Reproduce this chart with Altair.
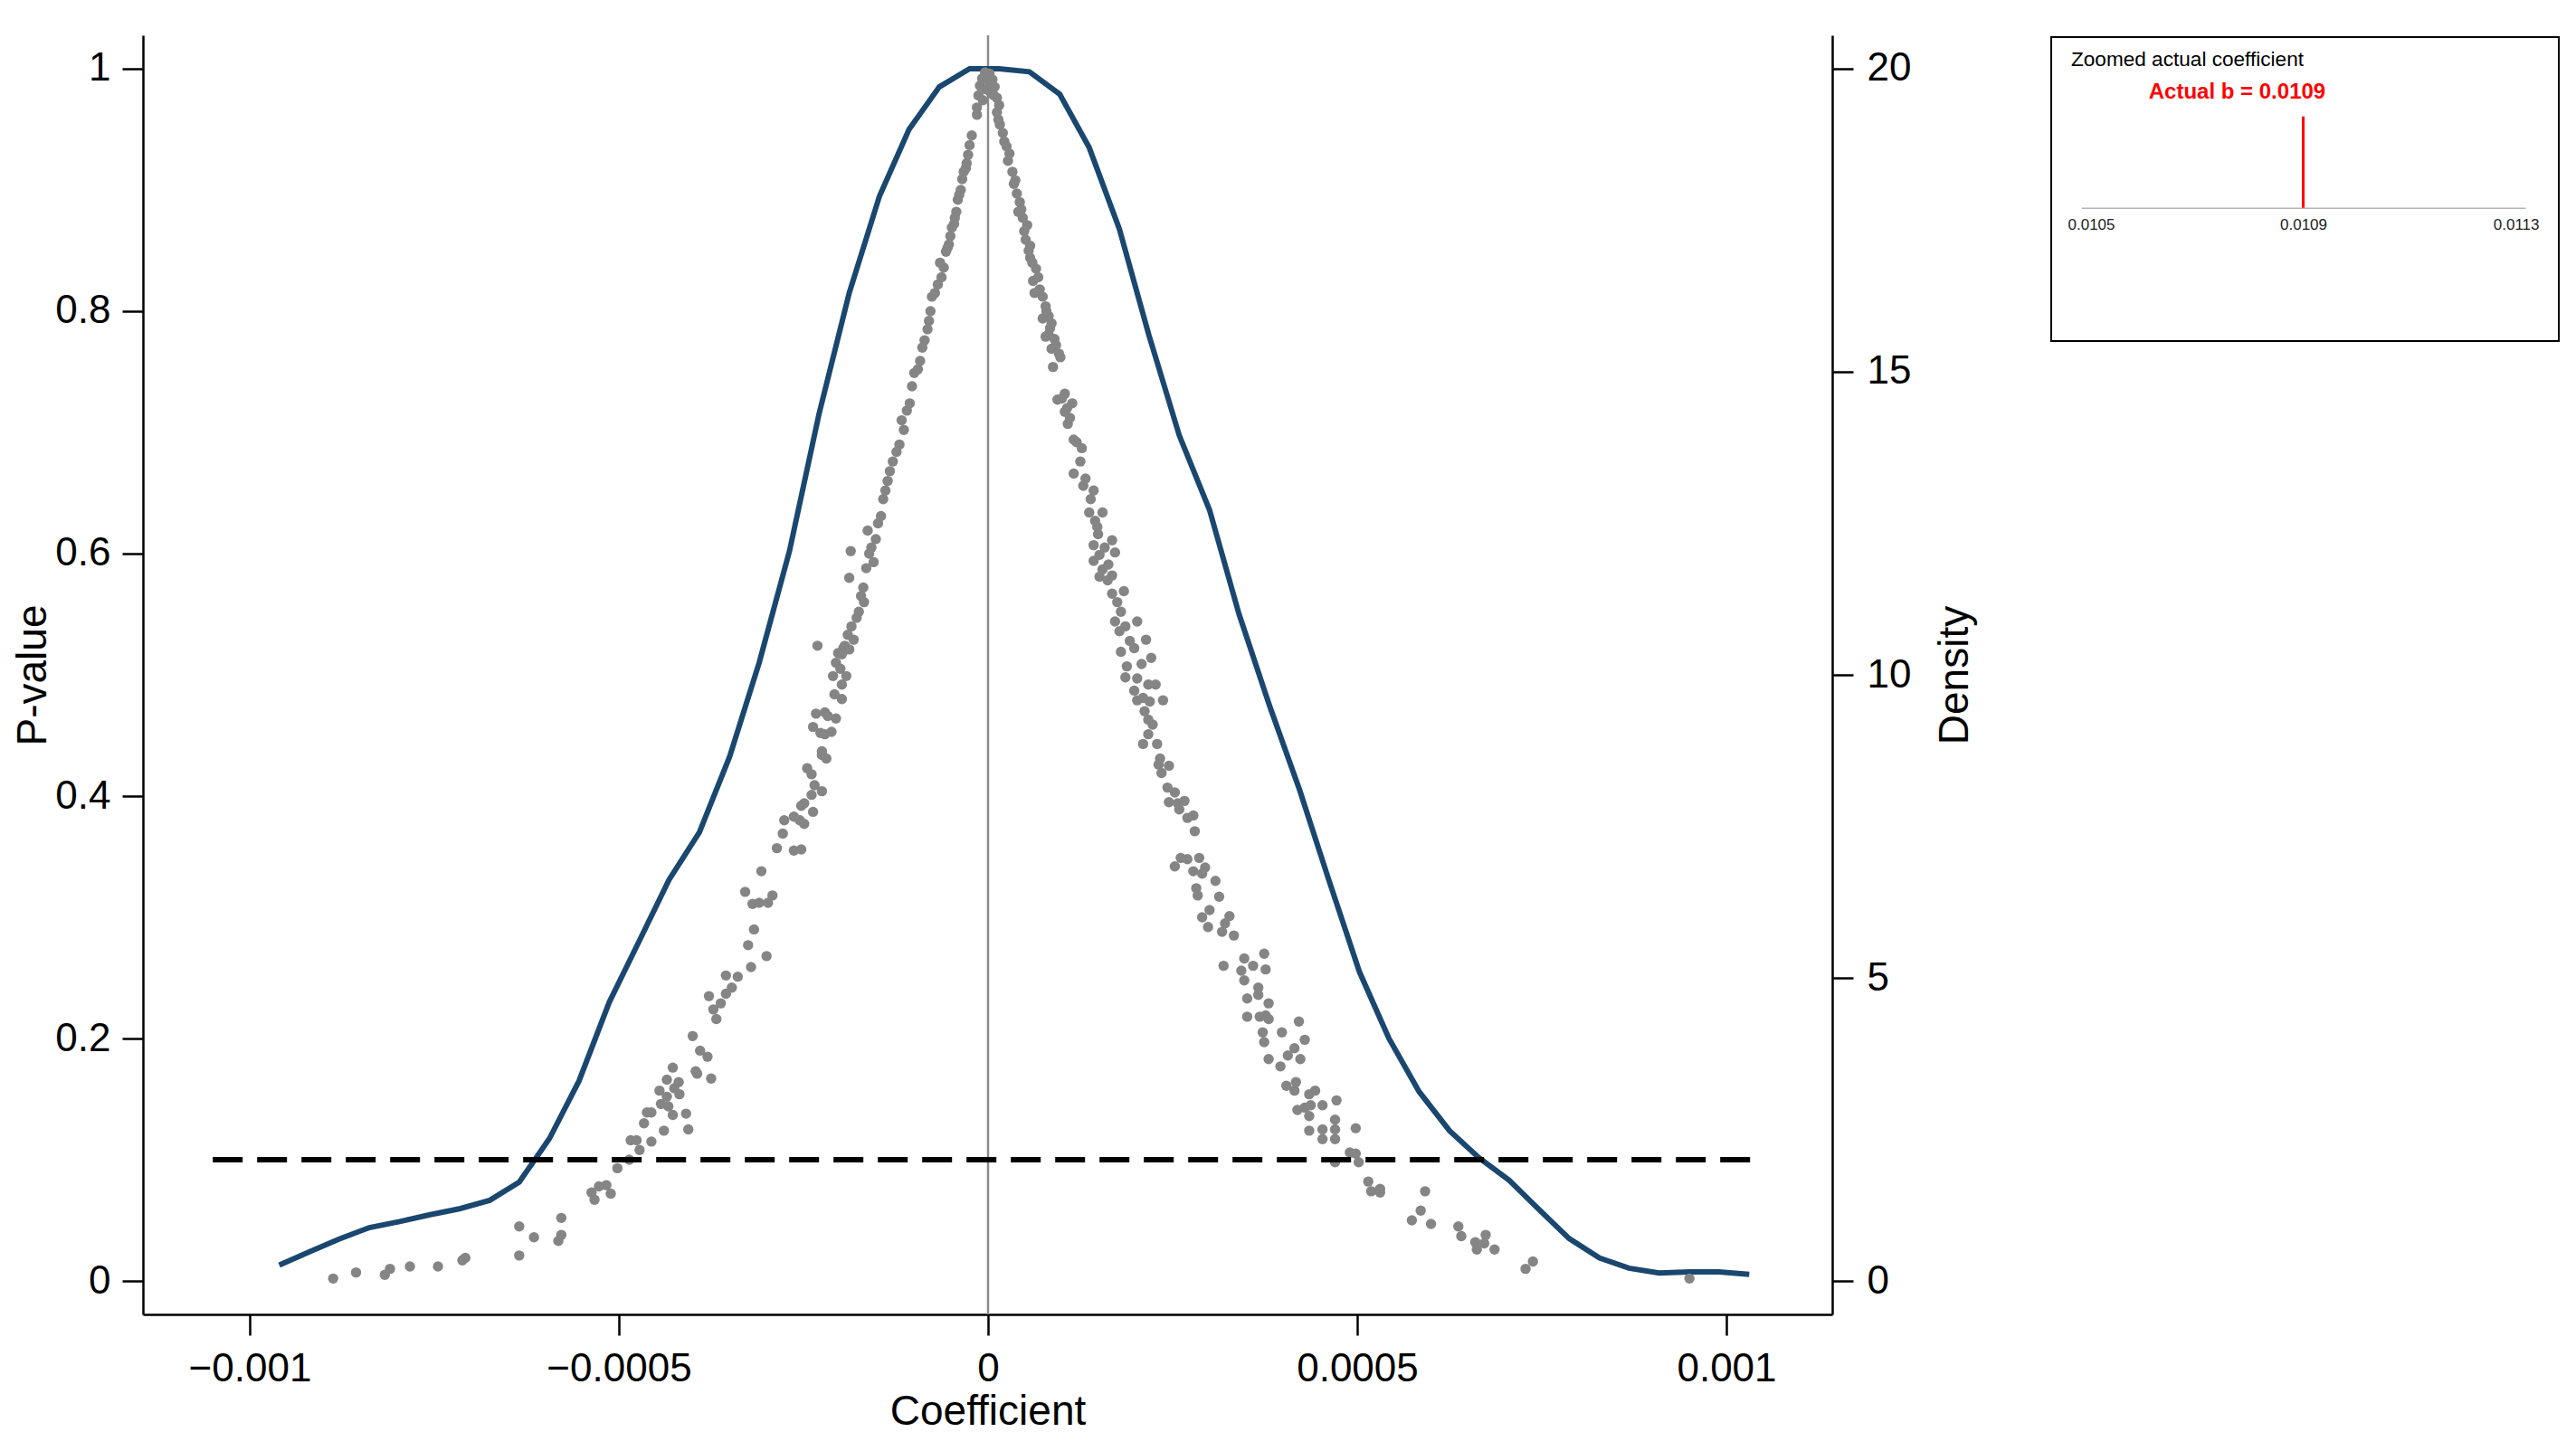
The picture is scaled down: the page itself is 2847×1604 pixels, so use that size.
import altair as alt
import pandas as pd

FONT = "Liberation Sans"

# ---------------- data ----------------
# kernel density of permuted coefficients (x in 1e-6 units)
density_coef_e6 = [-960, -919, -879, -838, -797, -757, -716, -675, -635, -594,
                   -554, -513, -472, -432, -391, -350, -310, -269, -229, -188,
                   -147, -107, -66, -25, 15, 56, 97, 137, 178, 218,
                   259, 300, 340, 381, 422, 462, 503, 543, 584, 625,
                   665, 706, 746, 787, 828, 868, 909, 950, 990, 1031]
density_val = [0.26, 0.48, 0.69, 0.88, 0.98, 1.09, 1.19, 1.33, 1.63, 2.35,
               3.30, 4.60, 5.62, 6.62, 7.40, 8.65, 10.2, 12.04, 14.3, 16.3,
               17.9, 19.0, 19.7, 20.0, 20.0, 19.95, 19.58, 18.7, 17.35, 15.6,
               13.95, 12.72, 11.0, 9.5, 8.1, 6.6, 5.1, 4.0, 3.12, 2.48,
               2.03, 1.66, 1.18, 0.70, 0.38, 0.21, 0.13, 0.15, 0.15, 0.11]

# permutation results: coefficient (1e-6 units) and p-value, left branch
left_coef_e6 = [
    -15, -25, -27, -29, -33, -35, -37, -41, -43, -45, -49, -51, -53, -57, -65, -63,
    -76, -80, -86, -92, -100, -106, -114, -120, -129, -139, -145, -163, -161, -155,
    -186, -188, -169, -168, -178, -182, -231, -196, -206,
    -22, -30, -39, -46, -55, -60, -68, -72, -78, -82, -89, -95, -103, -110, -117,
    -124, -133, -136, -142, -149, -152, -158, -165, -172, -175, -185, -190, -203,
    -194, -188, -198, -200, -192, -210, -198, -208, -198, -233,
    -221, -217, -206, -237, -227, -221, -212, -225, -225, -219,
    -245, -239, -235, -225, -239, -249, -253, -237, -276, -263,
    -255, -249, -278, -286, -263, -253, -307, -329, -292, -319,
    -310, -298, -317, -325, -300, -321, -355, -339, -347, -355,
    -378, -362, -372, -368, -400, -390, -380, -396, -394, -375,
    -427, -435, -419, -425, -445, -418, -435, -443, -433, -427,
    -409, -462, -456, -466, -439, -406, -456, -484, -476, -472,
    -486, -502, -537, -527, -517, -511, -533, -578, -578, -582,
    -635, -615, -635,
    -887, -856, -817, -810, -783, -745, -712, -708]
left_pval = [
    0.962, 0.937, 0.929, 0.922, 0.915, 0.909, 0.900, 0.892, 0.882, 0.877, 0.869, 0.862, 0.855, 0.849, 0.840, 0.828,
    0.812, 0.792, 0.776, 0.759, 0.749, 0.724, 0.702, 0.690, 0.676, 0.652, 0.631, 0.619, 0.600, 0.593,
    0.602, 0.580, 0.572, 0.560, 0.547, 0.529, 0.524, 0.522, 0.510,
    0.945, 0.918, 0.896, 0.872, 0.852, 0.836, 0.822, 0.815, 0.800, 0.785, 0.770, 0.752, 0.738, 0.718, 0.710,
    0.684, 0.668, 0.660, 0.645, 0.625, 0.612, 0.605, 0.588, 0.565, 0.552, 0.540, 0.533, 0.518,
    0.524, 0.521, 0.517, 0.505, 0.499, 0.499, 0.492, 0.484, 0.480, 0.468,
    0.469, 0.466, 0.464, 0.457, 0.452, 0.451, 0.453, 0.437, 0.434, 0.431,
    0.423, 0.418, 0.409, 0.404, 0.401, 0.394, 0.392, 0.387, 0.380, 0.383,
    0.380, 0.377, 0.369, 0.357, 0.355, 0.356, 0.338, 0.321, 0.318, 0.311,
    0.312, 0.312, 0.290, 0.277, 0.268, 0.259, 0.252, 0.251, 0.242, 0.237,
    0.235, 0.229, 0.224, 0.216, 0.202, 0.190, 0.185, 0.173, 0.171, 0.167,
    0.176, 0.166, 0.164, 0.159, 0.157, 0.154, 0.152, 0.146, 0.144, 0.137,
    0.138, 0.139, 0.139, 0.130, 0.124, 0.125, 0.115, 0.116, 0.116, 0.108,
    0.100, 0.093, 0.073, 0.078, 0.079, 0.072, 0.067, 0.052, 0.038, 0.033,
    0.045, 0.036, 0.021,
    0.002, 0.007, 0.005, 0.010, 0.012, 0.012, 0.017, 0.019]

# right branch
right_coef_e6 = [
    12, 16, 20, 25, 27, 33, 35, 39, 43, 41, 47, 53, 51, 57, 57, 65, 61, 63, 74, 78,
    74, 82, 84, 78, 90, 86, 98, 88, 94, 104, 114, 104, 108, 116, 127, 125, 116, 129, 143, 137,
    155, 145, 149, 168, 143, 172, 151, 143, 163, 155, 151, 168, 168, 184, 172, 202, 178, 180, 198, 214,
    221, 188, 208,
    14, 22, 29, 37, 45, 49, 55, 60, 68, 70, 79, 86, 92, 96, 82, 100, 107, 111, 120, 132,
    139, 148, 158, 162, 175, 180, 186, 192,
    186, 202, 217, 227, 198, 202, 210, 219, 237, 212,
    217, 223, 217, 210, 229, 233, 231, 245, 235, 243,
    253, 245, 257, 266, 259, 270, 278, 280, 261, 270,
    253, 286, 278, 294, 290, 308, 282, 284, 313, 300,
    290, 321, 327, 298, 317, 333, 347, 374, 359, 343,
    376, 319, 347, 366, 366, 351, 380, 351, 368, 380,
    376, 421, 398, 372, 374, 429, 415, 406, 423, 380,
    396, 404, 417, 415, 443, 435, 472, 419, 429, 437,
    453, 435, 470, 470, 453, 435, 498, 453, 470, 490,
    498, 470, 502, 515, 519, 531, 531, 592, 586, 574,
    600, 637, 641, 660, 674, 672, 662, 686, 728, 738, 950]
right_pval = [
    0.964, 0.954, 0.947, 0.936, 0.924, 0.915, 0.905, 0.897, 0.890, 0.882, 0.877, 0.871, 0.859, 0.854, 0.844, 0.835, 0.825, 0.815, 0.812, 0.804,
    0.794, 0.796, 0.786, 0.779, 0.777, 0.769, 0.762, 0.754, 0.727, 0.732, 0.724, 0.717, 0.707, 0.694, 0.687, 0.676, 0.666, 0.656, 0.652, 0.634,
    0.634, 0.627, 0.616, 0.611, 0.607, 0.601, 0.599, 0.594, 0.591, 0.587, 0.581, 0.582, 0.567, 0.569, 0.544, 0.544, 0.536, 0.519, 0.522, 0.529,
    0.514, 0.507, 0.509,
    0.958, 0.940, 0.930, 0.908, 0.884, 0.866, 0.850, 0.840, 0.828, 0.818, 0.800, 0.790, 0.772, 0.765, 0.781, 0.728, 0.720, 0.712, 0.692, 0.662,
    0.645, 0.622, 0.605, 0.578, 0.560, 0.552, 0.540, 0.528,
    0.498, 0.497, 0.492, 0.492, 0.487, 0.479, 0.481, 0.478, 0.479, 0.470,
    0.463, 0.459, 0.451, 0.443, 0.443, 0.431, 0.426, 0.425, 0.419, 0.407,
    0.403, 0.395, 0.394, 0.396, 0.389, 0.382, 0.384, 0.371, 0.349, 0.348,
    0.342, 0.349, 0.338, 0.341, 0.336, 0.330, 0.324, 0.318, 0.317, 0.306,
    0.300, 0.295, 0.301, 0.292, 0.288, 0.285, 0.266, 0.270, 0.260, 0.256,
    0.257, 0.260, 0.248, 0.242, 0.236, 0.233, 0.229, 0.218, 0.218, 0.216,
    0.219, 0.214, 0.205, 0.205, 0.197, 0.199, 0.192, 0.186, 0.183, 0.183,
    0.177, 0.161, 0.164, 0.157, 0.157, 0.154, 0.149, 0.141, 0.143, 0.145,
    0.145, 0.136, 0.133, 0.125, 0.125, 0.124, 0.126, 0.117, 0.117, 0.106,
    0.105, 0.098, 0.098, 0.082, 0.074, 0.076, 0.073, 0.074, 0.058, 0.050,
    0.047, 0.045, 0.037, 0.032, 0.038, 0.031, 0.026, 0.026, 0.010, 0.016, 0.002]

# cluster at the top, around zero
top_coef_e6 = [-4, 2, -8, 6, -11, 9, -3, 4, -13, 12, -7, 15, -15, 1, -2, 8]
top_pval = [0.997, 0.996, 0.992, 0.991, 0.986, 0.985, 0.983, 0.980, 0.978, 0.976,
            0.974, 0.970, 0.968, 0.990, 0.994, 0.978]

p_threshold = 0.1
zero_coef = 0.0
actual_b = 0.0109
x_ticks = [-0.001, -0.0005, 0, 0.0005, 0.001]
p_ticks = [0, 0.2, 0.4, 0.6, 0.8, 1]
d_ticks = [0, 5, 10, 15, 20]
inset_ticks = [0.0105, 0.0109, 0.0113]

# ---------------- tables ----------------
scatter_df = pd.DataFrame({
    "coef": [v * 1e-6 for v in left_coef_e6 + right_coef_e6 + top_coef_e6],
    "pval": left_pval + right_pval + top_pval,
})
dens_df = pd.DataFrame({"coef": [v * 1e-6 for v in density_coef_e6], "density": density_val})
zero_df = pd.DataFrame({"coef": [zero_coef]})
thr_df = pd.DataFrame({"pval": [p_threshold]})
b_df = pd.DataFrame({"b": [actual_b],
                     "label": [f"Actual b = {actual_b}"],
                     "title": ["Zoomed actual coefficient"]})

ax_common = dict(grid=False, domainColor="black", domainWidth=2.5, tickColor="black",
                 tickWidth=2.5, tickSize=23, labelFont=FONT, labelFontSize=44,
                 labelColor="black", titleFont=FONT, titleFontSize=46,
                 titleFontWeight="normal", titleColor="black")

x_scale = alt.Scale(domain=[-0.0011446, 0.0011434], nice=False, zero=False)
x_axis = alt.Axis(title="Coefficient", values=x_ticks, format="~g", labelPadding=15,
                  titlePadding=3, labelFlush=False, labelOverlap=False, **ax_common)
p_scale = alt.Scale(domain=[-0.0276, 1.0276], nice=False, zero=False)
p_axis = alt.Axis(title="P-value", values=p_ticks, format="~g", orient="left",
                  labelPadding=13, titlePadding=0, **ax_common)
d_scale = alt.Scale(domain=[-0.552, 20.552], nice=False, zero=False)
d_axis = alt.Axis(title="Density", values=d_ticks, format="~g", orient="right",
                  labelPadding=15, titlePadding=27, titleAngle=270, titleBaseline="top",
                  **ax_common)

vrule = alt.Chart(zero_df).mark_rule(color="#8c8c8c", strokeWidth=2.5).encode(
    x=alt.X("coef:Q", scale=x_scale, axis=x_axis))

dens_line = alt.Chart(dens_df).mark_line(color="#1a476f", strokeWidth=6).encode(
    x=alt.X("coef:Q", scale=x_scale, axis=x_axis),
    y=alt.Y("density:Q", scale=d_scale, axis=d_axis))

points = alt.Chart(scatter_df).mark_circle(size=130, color="#858585", opacity=1).encode(
    x=alt.X("coef:Q", scale=x_scale, axis=x_axis),
    y=alt.Y("pval:Q", scale=p_scale, axis=p_axis))

thresh = alt.Chart(thr_df).mark_rule(color="black", strokeWidth=6, strokeDash=[33, 16]).encode(
    x=alt.datum(-0.00105),
    x2=alt.datum(0.00105),
    y=alt.Y("pval:Q", scale=p_scale, axis=p_axis))

main = alt.layer(vrule, dens_line, alt.layer(points, thresh)).resolve_scale(
    y="independent").properties(width=1867, height=1414,
                                view=alt.ViewBackground(strokeWidth=0))

# ---------------- inset ----------------
ix_scale = alt.Scale(domain=[0.0105, 0.0113], range=[33, 524], nice=False, zero=False)
iy_scale = alt.Scale(domain=[-1.4584, 1.8683], nice=False, zero=False)
ix_axis = alt.Axis(values=inset_ticks, format=".4f", title=None, ticks=False, grid=False,
                   offset=-147.3, domainColor="#b4b4b4", domainWidth=1.5,
                   labelFont=FONT, labelFontSize=17, labelColor="#222222",
                   labelPadding=11, labelFlush=True, labelFlushOffset=15)

inset_rule = alt.Chart(b_df).mark_rule(color="#ff0000", strokeWidth=3).encode(
    x=alt.X("b:Q", scale=ix_scale, axis=ix_axis),
    y=alt.datum(0, scale=iy_scale, axis=None),
    y2=alt.datum(1))

inset_title = alt.Chart(b_df).mark_text(align="left", baseline="alphabetic", font=FONT,
                                         fontSize=22.6, color="black").encode(
    x=alt.datum(0.010482), y=alt.datum(1.554), text="title:N")

inset_label = alt.Chart(b_df).mark_text(align="center", baseline="alphabetic", font=FONT,
                                         fontSize=24, fontWeight="bold", color="#ff0000").encode(
    x=alt.datum(0.010781), y=alt.datum(1.198), text="label:N")

inset = alt.layer(inset_rule, inset_title, inset_label).properties(
    width=561, height=336, view=alt.ViewBackground(stroke="black", strokeWidth=2))

# thin invisible spacer that pushes the inset box down a few pixels
spacer = alt.Chart(zero_df).mark_point(opacity=0, size=1).properties(width=561, height=1)
inset_col = alt.vconcat(spacer, inset, spacing=0)

chart = alt.hconcat(main, inset_col, spacing=82).properties(
    padding={"left": 5, "top": 29, "right": 5, "bottom": 5}
).configure_view(stroke="transparent")

chart.save("out.html", embed_options={"renderer": "svg", "actions": False})
